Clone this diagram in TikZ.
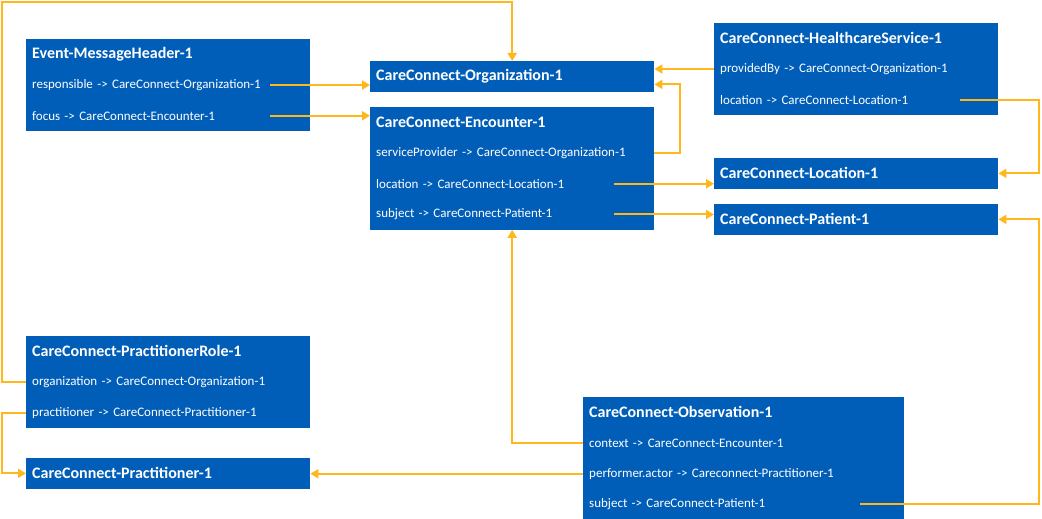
\documentclass[tikz,border=0pt]{standalone}
\usepackage{fontspec}
\setmainfont{Carlito}
\usepackage{tikz}
\usetikzlibrary{arrows.meta, positioning, calc, fit, backgrounds}

\definecolor{nhsblue}{RGB}{0,94,184}
\definecolor{linkorange}{RGB}{255,184,28}

\begin{document}
\begin{tikzpicture}[
  x=1pt, y=-1pt,
  entity/.style={text=white, font=\bfseries\fontsize{16}{18}\selectfont, minimum height=30.3pt, text width=272pt, inner xsep=6pt, inner ysep=0pt, align=left, anchor=north west},
  row/.style={text=white, font=\fontsize{13}{15}\selectfont, minimum height=30.3pt, text width=272pt, inner xsep=6pt, inner ysep=0pt, align=left},
  wide/.style={text width=309pt},
  box/.style={fill=nhsblue, inner sep=0pt, fit=#1},
  link/.style={draw=linkorange, line width=2pt, -{Triangle[length=8pt, width=9pt]}}
]
\useasboundingbox (0,0) rectangle (1042,519);

% Message header
\node[entity] (mh) at (26,39) {Event-MessageHeader-1};
\node[row, below=0pt of mh] (mh-resp) {responsible -> CareConnect-Organization-1};
\node[row, below=0pt of mh-resp] (mh-focus) {focus -> CareConnect-Encounter-1};

% Organization and encounter
\node[entity] (org) at (370,61) {CareConnect-Organization-1};
\node[entity] (enc) at (370,107) {CareConnect-Encounter-1};
\node[row, below=0pt of enc] (enc-sp) {serviceProvider -> CareConnect-Organization-1};
\node[row, below=0pt of enc-sp] (enc-loc) {location -> CareConnect-Location-1};
\node[row, below=0pt of enc-loc] (enc-subj) {subject -> CareConnect-Patient-1};

% Healthcare service, location, patient
\node[entity] (hs) at (714,23) {CareConnect-HealthcareService-1};
\node[row, below=0pt of hs] (hs-prov) {providedBy -> CareConnect-Organization-1};
\node[row, below=0pt of hs-prov] (hs-loc) {location -> CareConnect-Location-1};
\node[entity] (loc) at (714,158) {CareConnect-Location-1};
\node[entity] (pat) at (714,204) {CareConnect-Patient-1};

% Practitioner role and practitioner
\node[entity] (role) at (26,336) {CareConnect-PractitionerRole-1};
\node[row, below=0pt of role] (role-org) {organization -> CareConnect-Organization-1};
\node[row, below=0pt of role-org] (role-prac) {practitioner -> CareConnect-Practitioner-1};
\node[entity] (prac) at (26,458) {CareConnect-Practitioner-1};

% Observation
\node[entity, wide] (obs) at (583,397) {CareConnect-Observation-1};
\node[row, wide, below=0pt of obs] (obs-ctx) {context -> CareConnect-Encounter-1};
\node[row, wide, below=0pt of obs-ctx] (obs-perf) {performer.actor -> Careconnect-Practitioner-1};
\node[row, wide, below=0pt of obs-perf] (obs-subj) {subject -> CareConnect-Patient-1};

% Blue boxes behind the rows
\begin{scope}[on background layer]
  \node[box=(mh)(mh-focus)] {};
  \node[box=(org)] {};
  \node[box=(enc)(enc-subj)] {};
  \node[box=(hs)(hs-loc)] {};
  \node[box=(loc)] {};
  \node[box=(pat)] {};
  \node[box=(role)(role-prac)] {};
  \node[box=(prac)] {};
  \node[box=(obs)(obs-subj)] {};
\end{scope}

% References
\draw[link] ([xshift=-40pt]mh-resp.east) -- (mh-resp.east -| org.west);
\draw[link] ([xshift=-40pt]mh-focus.east) -- (mh-focus.east -| enc.west);
\draw[link] (role-org.west) -- ++(-24,0) |- ([yshift=59pt]org.north) -- (org.north);
\draw[link] (role-prac.west) -- ++(-24,0) |- (prac.west);
\draw[link] (enc-sp.east) -- ++(26,0) |- ([yshift=-8pt]org.east);
\draw[link] ([xshift=-40pt]enc-loc.east) -- (enc-loc.east -| loc.west);
\draw[link] ([xshift=-40pt]enc-subj.east) -- (enc-subj.east -| pat.west);
\draw[link] (hs-prov.west) -- (hs-prov.west -| org.east);
\draw[link] ([xshift=-38pt]hs-loc.east) -- ++(79,0) |- (loc.east);
\draw[link] (obs-ctx.west) -| (enc-subj.south);
\draw[link] (obs-perf.west) -- (obs-perf.west -| prac.east);
\draw[link] ([xshift=-44pt]obs-subj.east) -- ++(179,0) |- (pat.east);

\end{tikzpicture}
\end{document}
